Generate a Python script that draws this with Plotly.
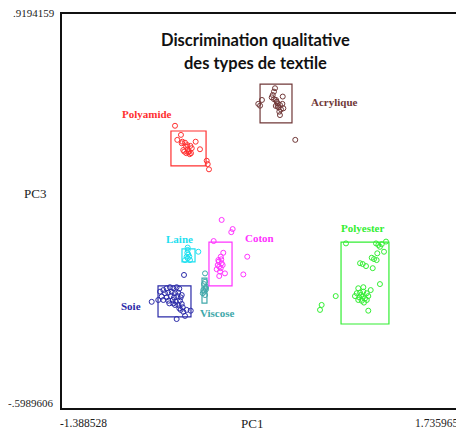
import plotly.graph_objects as go

# Axis extremes (PC1, PC3)
pc1_min, pc1_max = -1.388528, 1.735965
pc3_min, pc3_max = -0.5989606, 0.9194159
pc1_min_label, pc1_max_label = "-1.388528", "1.735965"
pc3_min_label, pc3_max_label = "-.5989606", ".9194159"

classes = ["Polyamide", "Acrylique", "Coton", "Laine", "Viscose", "Soie", "Polyester"]
colors = ["#FF3030", "#703838", "#FF33FF", "#1EE0F0", "#40A8AA", "#2B2BA8", "#33EE33"]

polyamide_x = [-0.489, -0.442, -0.471, -0.431, -0.410, -0.392, -0.368, -0.402, -0.424, -0.379, -0.363, -0.326,
               -0.292, -0.416, -0.357, -0.389, -0.239, -0.231, -0.221, -0.436, -0.384, -0.373, -0.400]
polyamide_y = [0.487, 0.452, 0.433, 0.426, 0.422, 0.413, 0.410, 0.407, 0.394, 0.390, 0.382, 0.426,
               0.397, 0.388, 0.401, 0.397, 0.353, 0.340, 0.320, 0.420, 0.385, 0.378, 0.382]

acrylique_x = [0.300, 0.292, 0.282, 0.274, 0.361, 0.308, 0.321, 0.339, 0.358, 0.326, 0.366, 0.347,
               0.334, 0.339, 0.306, 0.197, 0.168, 0.182, 0.292, 0.313, 0.321, 0.460]
acrylique_y = [0.631, 0.618, 0.605, 0.596, 0.599, 0.586, 0.573, 0.567, 0.571, 0.558, 0.554, 0.550,
               0.541, 0.528, 0.563, 0.586, 0.571, 0.564, 0.589, 0.579, 0.563, 0.433]

coton_x = [-0.121, -0.034, -0.045, -0.184, 0.081, 0.050, -0.108, -0.128, -0.147, -0.121, -0.140, -0.160,
           -0.095, -0.134, -0.140, -0.128, -0.113, -0.152, -0.144, -0.124]
coton_y = [0.126, 0.091, 0.079, 0.045, -0.015, -0.083, 0.000, -0.015, -0.028, -0.040, -0.053, -0.063,
           -0.079, -0.072, -0.089, -0.059, -0.047, -0.047, -0.034, -0.025]

laine_x = [-0.389, -0.392, -0.384, -0.397, -0.376, -0.410, -0.371, -0.305, -0.389, -0.389]
laine_y = [0.011, 0.000, -0.006, -0.015, -0.015, -0.028, -0.028, 0.004, -0.021, 0.020]

viscose_x = [-0.252, -0.252, -0.244, -0.266, -0.258, -0.270, -0.244, -0.252, -0.260, -0.248]
viscose_y = [-0.079, -0.111, -0.130, -0.143, -0.149, -0.155, -0.140, -0.162, -0.120, -0.135]

soie_x = [-0.607, -0.581, -0.555, -0.529, -0.503, -0.476, -0.455, -0.568, -0.542, -0.515, -0.489, -0.463,
          -0.594, -0.555, -0.523, -0.497, -0.471, -0.444, -0.581, -0.542, -0.507, -0.481, -0.450, -0.463,
          -0.436, -0.489, -0.455, -0.428, -0.444, -0.424, -0.397, -0.365, -0.410, -0.476, -0.621, -0.673,
          -0.534, -0.418, -0.436, -0.503]
soie_y = [-0.149, -0.143, -0.136, -0.132, -0.136, -0.132, -0.138, -0.155, -0.153, -0.149, -0.155, -0.153,
          -0.168, -0.171, -0.166, -0.171, -0.166, -0.171, -0.181, -0.184, -0.181, -0.188, -0.184, -0.200,
          -0.196, -0.200, -0.213, -0.209, -0.219, -0.226, -0.219, -0.222, -0.242, -0.254, -0.181, -0.188,
          -0.194, -0.085, -0.162, -0.194]

polyester_x = [0.860, 1.097, 1.115, 1.128, 1.142, 1.176, 1.160, 1.107, 1.063, 1.081, 1.102, 0.971,
               0.992, 1.018, 1.071, 1.128, 0.779, 0.668, 0.655, 1.036, 0.957, 0.997, 0.945, 0.971,
               0.997, 1.024, 1.055, 0.931, 0.965, 0.992, 1.010, 0.984, 0.957, 1.024, 1.002, 0.979, 1.036]
polyester_y = [0.036, 0.036, 0.030, 0.023, 0.033, 0.043, 0.004, -0.002, -0.019, -0.024, -0.028, -0.040,
               -0.043, -0.051, -0.059, -0.120, -0.166, -0.200, -0.219, -0.222, -0.136, -0.132, -0.155, -0.153,
               -0.149, -0.155, -0.143, -0.166, -0.171, -0.168, -0.175, -0.184, -0.181, -0.181, -0.191, -0.162, -0.166]

xs = [polyamide_x, acrylique_x, coton_x, laine_x, viscose_x, soie_x, polyester_x]
ys = [polyamide_y, acrylique_y, coton_y, laine_y, viscose_y, soie_y, polyester_y]

# Class boxes (PC1 from/to, PC3 from/to)
box_x0 = [-0.521, 0.182, -0.221, -0.434, -0.276, -0.623, 0.821]
box_x1 = [-0.244, 0.434, -0.039, -0.331, -0.237, -0.363, 1.199]
box_y0 = [0.333, 0.498, -0.127, -0.035, -0.193, -0.246, -0.273]
box_y1 = [0.467, 0.647, 0.041, 0.015, -0.097, -0.127, 0.041]

# Label positions
label_x = [-0.710, 0.773, 0.174, -0.450, -0.150, -0.836, 0.994]
label_y = [0.532, 0.578, 0.057, 0.053, -0.231, -0.204, 0.095]

fig = go.Figure()

for i, name in enumerate(classes):
    fig.add_trace(go.Scatter(
        x=xs[i], y=ys[i], mode="markers", name=name,
        marker=dict(symbol="circle-open", size=5, color=colors[i], line=dict(width=1, color=colors[i])),
        showlegend=False, hoverinfo="skip"))
    fig.add_shape(type="rect", xref="x", yref="y",
                  x0=box_x0[i], x1=box_x1[i], y0=box_y0[i], y1=box_y1[i],
                  line=dict(color=colors[i], width=1.2), fillcolor="rgba(0,0,0,0)")
    fig.add_annotation(x=label_x[i], y=label_y[i], xref="x", yref="y", text="<b>%s</b>" % name,
                       showarrow=False, font=dict(family="Liberation Serif", size=11, color=colors[i]))

# Frame
fig.add_shape(type="rect", xref="paper", yref="paper", x0=0, x1=1, y0=0, y1=1,
              line=dict(color="#111111", width=2), layer="above")

serif_l = dict(family="Liberation Serif", size=11, color="#222222")
serif = dict(family="Liberation Serif", size=11.5, color="#222222")
fig.add_annotation(xref="paper", yref="paper", x=0, y=1, xshift=-4, text=pc3_max_label,
                   showarrow=False, xanchor="right", yanchor="middle", font=serif_l)
fig.add_annotation(xref="paper", yref="paper", x=0, y=0, xshift=-6, yshift=6, text=pc3_min_label,
                   showarrow=False, xanchor="right", yanchor="middle", font=serif_l)
fig.add_annotation(xref="paper", yref="paper", x=0, y=0, xshift=22, yshift=-14, text=pc1_min_label,
                   showarrow=False, xanchor="center", yanchor="middle", font=serif)
fig.add_annotation(xref="paper", yref="paper", x=1, y=0, xshift=3, yshift=-14, text=pc1_max_label,
                   showarrow=False, xanchor="right", yanchor="middle", font=serif)
fig.add_annotation(xref="paper", yref="paper", x=0.482, y=0, yshift=-14, text="PC1",
                   showarrow=False, xanchor="center", yanchor="middle",
                   font=dict(family="Liberation Serif", size=13, color="#222222"))
fig.add_annotation(xref="paper", yref="paper", x=0, y=0.544, xshift=-26, text="PC3",
                   showarrow=False, xanchor="center", yanchor="middle",
                   font=dict(family="Liberation Serif", size=13, color="#222222"))

# Title
fig.add_annotation(xref="paper", yref="paper", x=0.49, y=1, yshift=-27,
                   text="<b>Discrimination qualitative</b>", showarrow=False,
                   xanchor="center", yanchor="middle", font=dict(family="Lato", size=16.5, color="#111111"))
fig.add_annotation(xref="paper", yref="paper", x=0.49, y=1, yshift=-50,
                   text="<b>des types de textile</b>", showarrow=False,
                   xanchor="center", yanchor="middle", font=dict(family="Lato", size=16.5, color="#111111"))

# The page body adds an 8px offset, so the figure is 8px smaller with 8px less left/top margin.
fig.update_layout(
    width=456, height=422,
    margin=dict(l=53, r=7, t=5, b=21),
    paper_bgcolor="white", plot_bgcolor="white",
    xaxis=dict(range=[pc1_min, pc1_max], showgrid=False, zeroline=False, showticklabels=False, ticks=""),
    yaxis=dict(range=[pc3_min, pc3_max], showgrid=False, zeroline=False, showticklabels=False, ticks=""),
)

fig.write_html("out.html")
